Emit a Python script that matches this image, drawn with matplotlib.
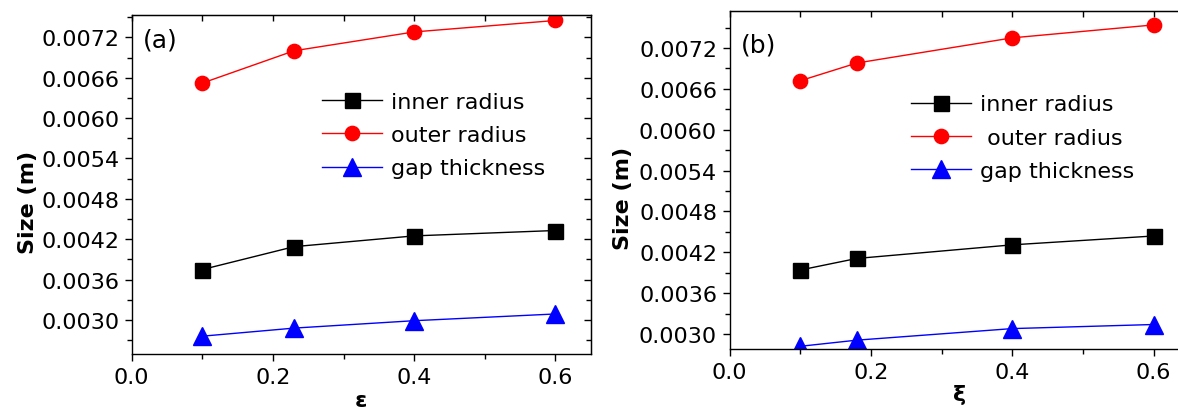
import matplotlib
matplotlib.use("Agg")
import matplotlib.pyplot as plt
from matplotlib.ticker import MultipleLocator, FormatStrFormatter

plt.rcParams['font.family'] = ['DejaVu Sans']

# panel (a): size vs epsilon
x_a = [0.1, 0.23, 0.4, 0.6]
inner_a = [0.00375, 0.00409, 0.00425, 0.00433]
outer_a = [0.00652, 0.00700, 0.00728, 0.00745]
gap_a = [0.00276, 0.00288, 0.00299, 0.00309]
labels_a = ['inner radius', 'outer radius', 'gap thickness']

# panel (b): size vs xi
x_b = [0.1, 0.18, 0.4, 0.6]
inner_b = [0.00394, 0.00411, 0.00431, 0.00444]
outer_b = [0.00672, 0.00698, 0.00735, 0.00754]
gap_b = [0.00282, 0.00291, 0.00308, 0.00314]
labels_b = ['inner radius', ' outer radius', 'gap thickness']

fig = plt.figure(figsize=(11.78, 4.10), dpi=100)
ax_a = fig.add_axes([0.1118, 0.1341, 0.3896, 0.8276])
ax_b = fig.add_axes([0.6193, 0.1463, 0.3900, 0.8237])


def panel(ax, x, inner, outer, gap, labels, ylim, tag, tag_y, xlab, ylab_x, leg_pos):
    ax.plot(x, inner, '-s', color='black', lw=1.0, ms=10.8, label=labels[0])
    ax.plot(x, outer, '-o', color='#ff0000', lw=1.0, ms=10.3, label=labels[1])
    ax.plot(x, gap, '-^', color='#0000ff', lw=1.0, ms=13.5, label=labels[2])
    ax.set_xlim(0, 0.65)
    ax.set_ylim(*ylim)
    ax.xaxis.set_major_locator(MultipleLocator(0.2))
    ax.xaxis.set_minor_locator(MultipleLocator(0.1))
    ax.yaxis.set_major_locator(MultipleLocator(0.0006))
    ax.yaxis.set_minor_locator(MultipleLocator(0.0003))
    ax.xaxis.set_major_formatter(FormatStrFormatter('%.1f'))
    ax.yaxis.set_major_formatter(FormatStrFormatter('%.4f'))
    ax.tick_params(which='both', direction='out', width=1.0, labelsize=16)
    ax.tick_params(which='major', length=5, pad=4)
    ax.tick_params(which='minor', length=3.5)
    for s in ax.spines.values():
        s.set_linewidth(1.0)
    # mirrored ticks pointing inwards on top and right
    top = ax.secondary_xaxis('top')
    top.xaxis.set_major_locator(MultipleLocator(0.1))
    top.tick_params(which='both', direction='in', length=4.5, width=1.0, labeltop=False)
    right = ax.secondary_yaxis('right')
    right.yaxis.set_major_locator(MultipleLocator(0.0006))
    right.yaxis.set_minor_locator(MultipleLocator(0.0003))
    right.tick_params(which='major', direction='in', length=5, width=1.0, labelright=False)
    right.tick_params(which='minor', direction='in', length=3.5, width=1.0)
    ax.set_ylabel('Size (m)', fontsize=16, fontweight='bold')
    ax.yaxis.set_label_coords(ylab_x, 0.45)
    ax.set_xlabel(xlab, fontsize=16, fontweight='bold')
    ax.text(0.025, tag_y, tag, transform=ax.transAxes, fontsize=18, va='center', ha='left')
    ax.legend(loc='upper left', bbox_to_anchor=leg_pos, frameon=False, fontsize=16,
              numpoints=1, handlelength=2.7, handletextpad=0.4, labelspacing=0.6,
              borderpad=0, borderaxespad=0)


panel(ax_a, x_a, inner_a, outer_a, gap_a, labels_a, (0.002495, 0.007536), '(a)', 0.928, 'ε',
      -0.205, (0.415, 0.773))
panel(ax_b, x_b, inner_b, outer_b, gap_b, labels_b, (0.00278, 0.00774), '(b)', 0.903, 'ξ',
      -0.21, (0.396, 0.754))

ax_a.xaxis.set_label_coords(0.5, -0.105)
ax_b.xaxis.set_label_coords(0.5, -0.105)

fig.savefig('out.png', dpi=100)
